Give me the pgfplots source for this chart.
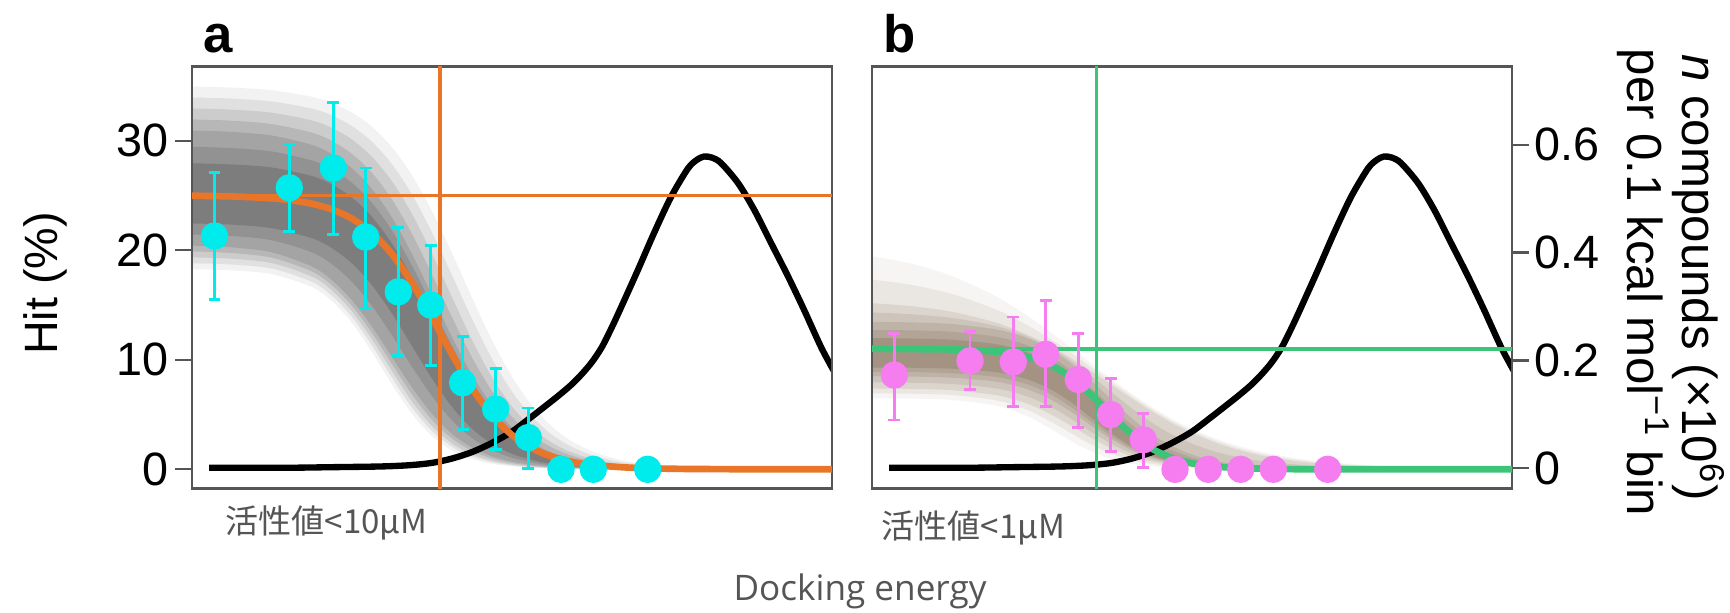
\documentclass[border=0pt]{standalone}
\usepackage{fontspec}
\setmainfont{Liberation Sans}
\newfontfamily\cjk{Noto Sans CJK JP}
\newfontfamily\osans{Open Sans}
\usepackage{pgfplots}
\pgfplotsset{compat=1.18}

\definecolor{framegray}{HTML}{555555}
\definecolor{txtgray}{HTML}{555555}
\definecolor{cyanpt}{RGB}{0,235,235}
\definecolor{orangeln}{RGB}{233,117,40}
\definecolor{greenln}{RGB}{60,196,120}
\definecolor{pinkpt}{RGB}{246,125,240}
\definecolor{bandbrown}{RGB}{90,60,30}

\pgfplotsset{
  panel/.style={
    scale only axis, width=6.40cm, height=4.22cm,
    xmin=0, xmax=64, xtick=\empty,
    anchor=south west,
    axis line style={draw=framegray, line width=0.65pt},
    tick style={draw=framegray, line width=0.65pt},
    tick align=outside, major tick length=1.7mm,
    ticklabel style={font=\fontsize{13.3}{16}\selectfont},
  },
  hit/.style={panel, ymin=-1.75, ymax=36.77},
  dens/.style={panel, ymin=-0.0375, ymax=0.745},
  fit/.style={smooth, line width=1.9pt},
  guide/.style={line width=1.0pt},
  density/.style={smooth, black, line width=1.8pt},
  gband/.style={draw=none, fill=black, fill opacity=#1, smooth},
  bband/.style={draw=none, fill=bandbrown, fill opacity=#1, smooth},
  pts/.style={only marks, mark=*, mark size=3.7pt, color=#1,
    mark options={draw=none, fill=#1},
    error bars/.cd, y dir=both, y explicit,
    error bar style={line width=0.8pt, #1},
    error mark options={rotate=90, line width=0.8pt, mark size=1.7pt, #1}},
}

% number of compounds per bin (x, n x 10^6), same curve in both panels
\def\densitydata{
(1.7,0.001) (6,0.001) (10,0.001) (14,0.002) (18,0.003) (20,0.004) (22,0.006)
(24,0.010) (26,0.018) (28,0.030) (30,0.047) (32,0.068) (34,0.096) (36,0.125)
(37,0.140) (38,0.156) (39,0.175) (40,0.197) (41,0.225) (42,0.262) (42.9,0.298)
(44.6,0.368) (46.2,0.436) (47.9,0.503) (49.6,0.556) (50.5,0.572) (51.2,0.578)
(52.0,0.576) (52.9,0.566) (54.6,0.529) (56.2,0.480) (57.9,0.418) (59.6,0.356)
(61.2,0.294) (62.9,0.225) (64.2,0.180)}

\begin{document}
\begin{tikzpicture}
\path[use as bounding box] (0,0) rectangle (17.30,6.13);

%%%%% panel a
\begin{axis}[hit, hide axis, at={(1.92cm,1.245cm)}]
  \addplot[gband=0.05] coordinates {
    (-1,34.95) (0,34.94) (4,34.84) (8,34.60) (12,34.00) (14,33.43) (16,32.56) (18,31.27)
    (20,29.40) (22,26.85) (24,23.57) (26,19.74) (28,15.67) (30,11.79) (32,8.45) (34,5.82)
    (36,3.89) (38,2.54) (40,1.64) (42,1.05) (44,0.66) (48,0.26) (52,0.10) (56,0.04) (60,0.02) (65,0)
    (40,0.02) (36,0.07) (34,0.14) (32,0.27) (30,0.50) (28,0.94) (26,1.72) (24,3.04) (22,5.06)
    (20,7.75) (18,10.70) (16,13.36) (14,15.34) (12,16.63) (8,17.81) (4,18.16) (0,18.26) (-1,18.27)} -- cycle;
  \addplot[gband=0.074] coordinates {
    (-1,33.95) (0,33.94) (4,33.84) (8,33.58) (12,32.92) (14,32.30) (16,31.33) (18,29.90)
    (20,27.85) (22,25.08) (24,21.63) (26,17.72) (28,13.74) (30,10.10) (32,7.09) (34,4.80)
    (36,3.16) (38,2.04) (40,1.30) (42,0.82) (44,0.52) (48,0.20) (52,0.08) (58,0.02)
    (40,0.03) (36,0.10) (34,0.19) (32,0.35) (30,0.64) (28,1.16) (26,2.05) (24,3.50) (22,5.63)
    (20,8.36) (18,11.29) (16,13.89) (14,15.83) (12,17.11) (8,18.32) (4,18.69) (0,18.81) (-1,18.82)} -- cycle;
  \addplot[gband=0.091] coordinates {
    (-1,32.95) (0,32.94) (4,32.83) (8,32.55) (12,31.84) (14,31.16) (16,30.10) (18,28.53)
    (20,26.29) (22,23.31) (24,19.68) (26,15.70) (28,11.81) (30,8.41) (32,5.73) (34,3.77)
    (36,2.42) (38,1.53) (40,0.96) (42,0.59) (44,0.37) (48,0.14) (52,0.05) (58,0.01)
    (40,0.04) (36,0.13) (34,0.24) (32,0.43) (30,0.77) (28,1.37) (26,2.37) (24,3.95) (22,6.19)
    (20,8.97) (18,11.87) (16,14.41) (14,16.32) (12,17.59) (8,18.82) (4,19.22) (0,19.35) (-1,19.36)} -- cycle;
  \addplot[gband=0.10] coordinates {
    (-1,31.95) (0,31.94) (4,31.82) (8,31.51) (12,30.73) (14,29.97) (16,28.79) (18,27.06)
    (20,24.64) (22,21.49) (24,17.79) (26,13.88) (28,10.22) (30,7.14) (32,4.79) (34,3.11)
    (36,1.98) (38,1.24) (40,0.77) (42,0.47) (44,0.30) (48,0.11) (54,0.02)
    (40,0.06) (36,0.19) (34,0.33) (32,0.57) (30,0.98) (28,1.68) (26,2.81) (24,4.51) (22,6.83)
    (20,9.61) (18,12.45) (16,14.92) (14,16.79) (12,18.05) (8,19.31) (4,19.74) (0,19.89) (-1,19.90)} -- cycle;
  \addplot[gband=0.10] coordinates {
    (-1,30.94) (0,30.93) (4,30.80) (8,30.47) (12,29.61) (14,28.77) (16,27.48) (18,25.59)
    (20,22.98) (22,19.66) (24,15.89) (26,12.06) (28,8.63) (30,5.87) (32,3.84) (34,2.45)
    (36,1.53) (38,0.95) (40,0.58) (42,0.35) (44,0.22) (48,0.08) (54,0.01)
    (40,0.08) (36,0.24) (34,0.41) (32,0.70) (30,1.19) (28,1.99) (26,3.24) (24,5.07) (22,7.47)
    (20,10.25) (18,13.03) (16,15.43) (14,17.26) (12,18.51) (8,19.80) (4,20.26) (0,20.42) (-1,20.44)} -- cycle;
  \addplot[gband=0.11] coordinates {
    (-1,29.45) (0,29.44) (4,29.32) (8,29.01) (12,28.19) (14,27.39) (16,26.15) (18,24.32)
    (20,21.80) (22,18.59) (24,14.95) (26,11.28) (28,8.01) (30,5.41) (32,3.52) (34,2.23)
    (36,1.38) (38,0.85) (40,0.52) (44,0.20) (50,0.04)
    (40,0.13) (36,0.37) (34,0.63) (32,1.06) (30,1.76) (28,2.85) (26,4.47) (24,6.68) (22,9.36)
    (20,12.24) (18,14.92) (16,17.11) (14,18.72) (12,19.80) (8,20.90) (4,21.30) (0,21.43) (-1,21.45)} -- cycle;
  \addplot[gband=0.14] coordinates {
    (-1,27.95) (0,27.94) (4,27.83) (8,27.55) (12,26.77) (14,26.00) (16,24.81) (18,23.05)
    (20,20.61) (22,17.51) (24,14.00) (26,10.49) (28,7.39) (30,4.95) (32,3.19) (34,2.00)
    (36,1.23) (38,0.75) (40,0.46) (44,0.17) (50,0.03)
    (40,0.17) (36,0.50) (34,0.85) (32,1.41) (30,2.32) (28,3.71) (26,5.70) (24,8.28) (22,11.25)
    (20,14.22) (18,16.80) (16,18.79) (14,20.18) (12,21.09) (8,22.00) (4,22.33) (0,22.44) (-1,22.46)} -- cycle;
\end{axis}

\begin{axis}[dens, hide axis, at={(1.92cm,1.245cm)}]
  \addplot[density] coordinates {\densitydata};
\end{axis}

\begin{axis}[hit, at={(1.92cm,1.245cm)},
  ytick={0,10,20,30}, yticklabels={0,10,20,30}, ytick pos=left,
  yticklabel style={inner xsep=0.6mm}]
  \addplot[guide, orangeln] coordinates {(24.8,-5) (24.8,40)};
  \addplot[guide, orangeln] coordinates {(-1,25) (65,25)};
  \addplot[fit, orangeln] coordinates {
    (0,24.97) (4,24.91) (8,24.74) (10,24.55) (12,24.24) (14,23.72) (16,22.88) (18,21.57)
    (20,19.64) (22,17.02) (24,13.84) (26,10.49) (28,7.41) (30,4.92) (32,3.13) (34,1.92)
    (36,1.16) (38,0.69) (40,0.40) (44,0.14) (48,0.05) (52,0.02) (56,0.01) (64,0)};
  \addplot[pts=cyanpt] coordinates {
    (2.25,21.3) += (0,5.8) -= (0,5.8)
    (9.73,25.7) += (0,3.9) -= (0,4.0)
    (14.13,27.5) += (0,6.0) -= (0,6.1)
    (17.37,21.2) += (0,6.3) -= (0,6.5)
    (20.63,16.2) += (0,5.9) -= (0,5.8)
    (23.87,15.0) += (0,5.4) -= (0,5.5)
    (27.07,7.9) += (0,4.2) -= (0,4.3)
    (30.37,5.5) += (0,3.7) -= (0,3.7)
    (33.63,2.9) += (0,2.7) -= (0,2.8)
    (36.9,0) += (0,0) -= (0,0)
    (40.13,0) += (0,0) -= (0,0)
    (45.57,0) += (0,0) -= (0,0)};
\end{axis}

%%%%% panel b
\begin{axis}[hit, hide axis, at={(8.72cm,1.245cm)}]
  \addplot[bband=0.05] coordinates {
    (-1,19.59) (0,19.46) (4,18.76) (8,17.64) (12,15.98) (14,14.93) (16,13.73) (18,12.42)
    (20,11.03) (22,9.61) (24,8.21) (26,6.89) (28,5.68) (30,4.60) (32,3.70) (34,2.93)
    (36,2.30) (38,1.79) (40,1.39) (42,1.07) (44,0.82) (48,0.48) (52,0.28) (56,0.16) (60,0.09) (65,0.05)
    (36,0.01) (34,0.03) (32,0.07) (30,0.14) (28,0.27) (26,0.50) (24,0.92) (22,1.60)
    (20,2.55) (18,3.63) (16,4.64) (14,5.40) (12,5.89) (8,6.33) (4,6.46) (0,6.49) (-1,6.49)} -- cycle;
  \addplot[bband=0.08] coordinates {
    (-1,17.41) (0,17.32) (4,16.83) (8,16.01) (12,14.74) (14,13.90) (16,12.92) (18,11.80)
    (20,10.57) (22,9.27) (24,7.95) (26,6.68) (28,5.49) (30,4.42) (32,3.51) (34,2.75)
    (36,2.12) (38,1.63) (40,1.24) (42,0.94) (44,0.71) (48,0.40) (52,0.23) (56,0.13) (60,0.07) (65,0.035)
    (38,0.02) (36,0.04) (34,0.08) (32,0.15) (30,0.28) (28,0.49) (26,0.84) (24,1.41) (22,2.22)
    (20,3.24) (18,4.30) (16,5.23) (14,5.92) (12,6.36) (8,6.78) (4,6.90) (0,6.94) (-1,6.94)} -- cycle;
  \addplot[bband=0.10] coordinates {
    (-1,15.22) (0,15.17) (4,14.89) (8,14.38) (12,13.50) (14,12.87) (16,12.10) (18,11.17)
    (20,10.10) (22,8.92) (24,7.69) (26,6.46) (28,5.29) (30,4.23) (32,3.32) (34,2.56)
    (36,1.94) (38,1.46) (40,1.09) (42,0.80) (44,0.59) (48,0.32) (52,0.17) (56,0.09) (60,0.05) (65,0.02)
    (38,0.04) (36,0.07) (34,0.13) (32,0.23) (30,0.41) (28,0.70) (26,1.18) (24,1.89) (22,2.84)
    (20,3.92) (18,4.96) (16,5.82) (14,6.44) (12,6.83) (8,7.22) (4,7.34) (0,7.38) (-1,7.39)} -- cycle;
  \addplot[bband=0.11] coordinates {
    (-1,14.35) (0,14.32) (4,14.15) (8,13.82) (12,13.17) (14,12.65) (16,11.95) (18,11.02)
    (20,9.86) (22,8.48) (24,7.00) (26,5.55) (28,4.25) (30,3.18) (32,2.34) (34,1.70)
    (36,1.23) (38,0.89) (40,0.64) (44,0.33) (48,0.18) (52,0.09) (56,0.05) (60,0.02)
    (38,0.05) (36,0.09) (34,0.16) (32,0.29) (30,0.51) (28,0.87) (26,1.46) (24,2.30) (22,3.39)
    (20,4.56) (18,5.64) (16,6.49) (14,7.08) (12,7.44) (8,7.79) (4,7.90) (0,7.94) (-1,7.94)} -- cycle;
  \addplot[bband=0.12] coordinates {
    (-1,13.48) (0,13.47) (4,13.41) (8,13.26) (12,12.84) (14,12.43) (16,11.80) (18,10.87)
    (20,9.61) (22,8.04) (24,6.31) (26,4.64) (28,3.21) (30,2.12) (32,1.35) (34,0.84)
    (36,0.51) (38,0.31) (40,0.19) (44,0.07) (48,0.03)
    (38,0.06) (36,0.10) (34,0.19) (32,0.34) (30,0.60) (28,1.04) (26,1.73) (24,2.71) (22,3.93)
    (20,5.20) (18,6.31) (16,7.15) (14,7.71) (12,8.05) (8,8.36) (4,8.46) (0,8.49) (-1,8.49)} -- cycle;
  \addplot[bband=0.13] coordinates {
    (-1,12.74) (0,12.73) (4,12.68) (8,12.55) (12,12.16) (14,11.77) (16,11.15) (18,10.22)
    (20,8.95) (22,7.36) (24,5.65) (26,4.04) (28,2.71) (30,1.74) (32,1.08) (34,0.66)
    (36,0.39) (38,0.24) (40,0.14) (44,0.05)
    (38,0.06) (36,0.11) (34,0.21) (32,0.37) (30,0.66) (28,1.14) (26,1.90) (24,2.98) (22,4.29)
    (20,5.63) (18,6.77) (16,7.61) (14,8.15) (12,8.48) (8,8.77) (4,8.87) (0,8.89) (-1,8.89)} -- cycle;
  \addplot[bband=0.16] coordinates {
    (-1,11.99) (0,11.98) (4,11.94) (8,11.83) (12,11.48) (14,11.10) (16,10.50) (18,9.57)
    (20,8.28) (22,6.68) (24,4.98) (26,3.43) (28,2.21) (30,1.36) (32,0.81) (34,0.47)
    (36,0.27) (38,0.16) (40,0.09) (44,0.03)
    (38,0.06) (36,0.12) (34,0.22) (32,0.39) (30,0.71) (28,1.24) (26,2.07) (24,3.24) (22,4.65)
    (20,6.06) (18,7.23) (16,8.06) (14,8.59) (12,8.91) (8,9.18) (4,9.27) (0,9.29) (-1,9.29)} -- cycle;
\end{axis}

\begin{axis}[dens, at={(8.72cm,1.245cm)},
  ytick={0,0.2,0.4,0.6}, yticklabels={0,0.2,0.4,0.6},
  ytick pos=right, yticklabel pos=right,
  yticklabel style={inner xsep=0.5mm}]
  \addplot[density] coordinates {\densitydata};
\end{axis}

\begin{axis}[hit, at={(8.72cm,1.245cm)}, ytick=\empty]
  \addplot[guide, greenln] coordinates {(22.47,-5) (22.47,40)};
  \addplot[guide, greenln] coordinates {(-1,11) (65,11)};
  \addplot[fit, greenln] coordinates {
    (0,11.0) (8,10.94) (10,10.88) (12,10.77) (14,10.56) (16,10.17) (18,9.47) (20,8.33)
    (22,6.74) (24,4.90) (26,3.18) (28,1.88) (30,1.04) (32,0.55) (34,0.29) (36,0.15)
    (40,0.04) (44,0.01) (64,0)};
  \addplot[pts=pinkpt] coordinates {
    (2.23,8.6) += (0,3.8) -= (0,4.1)
    (9.8,9.9) += (0,2.7) -= (0,2.6)
    (14.13,9.8) += (0,4.1) -= (0,4.1)
    (17.37,10.5) += (0,4.9) -= (0,4.8)
    (20.63,8.2) += (0,4.2) -= (0,4.4)
    (23.87,5.0) += (0,3.3) -= (0,3.4)
    (27.13,2.7) += (0,2.4) -= (0,2.5)
    (30.3,0) += (0,0) -= (0,0)
    (33.63,0) += (0,0) -= (0,0)
    (36.87,0) += (0,0) -= (0,0)
    (40.13,0) += (0,0) -= (0,0)
    (45.57,0) += (0,0) -= (0,0)};
\end{axis}

%%%%% labels
\node[anchor=base west, inner sep=0, font=\bfseries\fontsize{15}{18}\selectfont] at (2.03,5.60) {a};
\node[anchor=base west, inner sep=0, font=\bfseries\fontsize{15}{18}\selectfont] at (8.83,5.60) {b};
\node[rotate=90, anchor=base, inner sep=0, font=\fontsize{13.3}{16}\selectfont] at (0.57,3.295) {Hit (\%)};
\node[rotate=-90, anchor=base, inner sep=0, font=\fontsize{14}{17}\selectfont] at (16.82,3.355)
  {\textit{n} compounds (×10\textsuperscript{6})};
\node[rotate=-90, anchor=base, inner sep=0, font=\fontsize{14}{17}\selectfont] at (16.27,3.305)
  {per 0.1 kcal mol\textsuperscript{−1} bin};
\node[anchor=west, inner sep=0, text=txtgray, font=\cjk\fontsize{9.4}{11}\selectfont] at (2.25,0.90) {活性値<10μM};
\node[anchor=west, inner sep=0, text=txtgray, font=\cjk\fontsize{9.4}{11}\selectfont] at (8.81,0.85) {活性値<1μM};
\node[anchor=base, inner sep=0, text=txtgray, font=\osans\fontsize{10}{12}\selectfont] at (8.60,0.12) {Docking energy};
\end{tikzpicture}
\end{document}
